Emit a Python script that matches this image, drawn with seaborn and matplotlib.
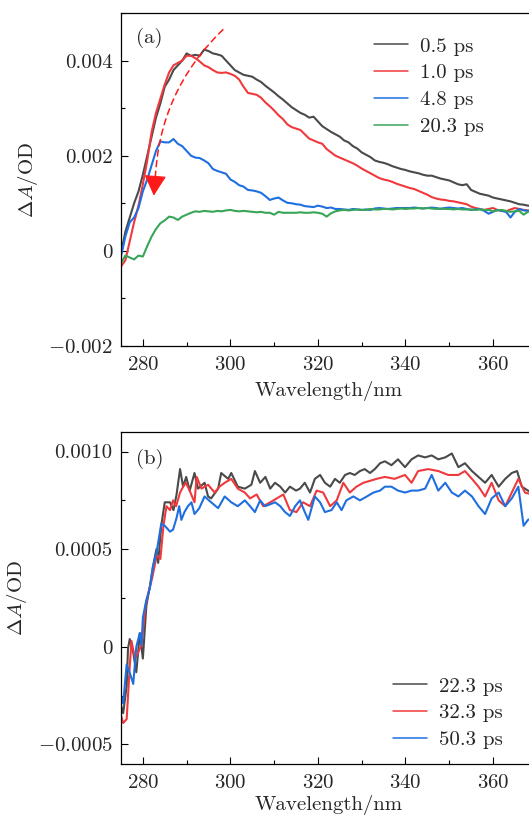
import numpy as np
import pandas as pd
import seaborn as sns
import matplotlib.pyplot as plt
from matplotlib.ticker import MultipleLocator, FixedLocator
from matplotlib.lines import Line2D

# ---- panel (a): early delays ----
wl_a = list(range(275, 370))

a_05ps = [-0.00005, 0.0004, 0.0007, 0.0010, 0.00125, 0.0016, 0.0020, 0.0024, 0.0028, 0.0031,
          0.00345, 0.0036, 0.0038, 0.0039, 0.0040, 0.00415, 0.0041, 0.00412, 0.0041, 0.00423,
          0.0042, 0.00415, 0.00413, 0.0041, 0.0040, 0.0039, 0.0038, 0.00375, 0.0037, 0.00368,
          0.00366, 0.0036, 0.00355, 0.00347, 0.0034, 0.00333, 0.00325, 0.00318, 0.0031, 0.00302,
          0.00296, 0.0029, 0.00286, 0.0028, 0.00282, 0.00272, 0.00262, 0.00256, 0.0025, 0.00245,
          0.0024, 0.00232, 0.00228, 0.0022, 0.00215, 0.00207, 0.00202, 0.00197, 0.0019, 0.00187,
          0.00185, 0.00182, 0.00178, 0.00175, 0.00172, 0.0017, 0.00167, 0.00165, 0.00163, 0.0016,
          0.00158, 0.00158, 0.00155, 0.00152, 0.0015, 0.00148, 0.00144, 0.0014, 0.00138, 0.0014,
          0.00128, 0.00124, 0.0012, 0.00118, 0.00116, 0.00112, 0.0011, 0.00108, 0.00106, 0.00104,
          0.00101, 0.00098, 0.00097, 0.00095, 0.00094]

a_10ps = [-0.00033, -0.0002, 0.0002, 0.0006, 0.00095, 0.0014, 0.0019, 0.0025, 0.0029, 0.0032,
          0.0035, 0.00375, 0.0039, 0.00395, 0.0040, 0.0041, 0.0041, 0.00405, 0.00398, 0.0039,
          0.00386, 0.0038, 0.00375, 0.00374, 0.00375, 0.00372, 0.00368, 0.0036, 0.00345, 0.00332,
          0.0033, 0.00328, 0.00322, 0.00312, 0.00304, 0.00295, 0.00285, 0.00277, 0.00266, 0.0026,
          0.00257, 0.00254, 0.00245, 0.00236, 0.00232, 0.00228, 0.00225, 0.00214, 0.00207, 0.0020,
          0.00196, 0.00192, 0.00188, 0.00184, 0.00179, 0.00173, 0.00168, 0.00163, 0.00158, 0.00153,
          0.0015, 0.00148, 0.00145, 0.00141, 0.00138, 0.00135, 0.00132, 0.0013, 0.00126, 0.00122,
          0.00118, 0.00113, 0.0011, 0.00108, 0.00107, 0.00105, 0.00104, 0.00102, 0.0010, 0.00098,
          0.00093, 0.0009, 0.00088, 0.00086, 0.00088, 0.0009, 0.00086, 0.00084, 0.00083, 0.00087,
          0.0009, 0.00088, 0.00086, 0.00085, 0.00085]

a_48ps = [-0.00012, 0.0003, 0.0006, 0.0007, 0.0009, 0.00125, 0.0015, 0.0018, 0.0021, 0.0023,
          0.00228, 0.00228, 0.00235, 0.00225, 0.0022, 0.0021, 0.0020, 0.00196, 0.00195, 0.0019,
          0.00184, 0.00172, 0.00168, 0.00165, 0.00162, 0.0015, 0.00145, 0.00138, 0.00135, 0.00128,
          0.00127, 0.00125, 0.00122, 0.00115, 0.00107, 0.0011, 0.00112, 0.00106, 0.00101, 0.0010,
          0.00098, 0.00097, 0.00094, 0.00093, 0.00092, 0.00095, 0.00093, 0.0009, 0.00091, 0.00088,
          0.00088, 0.00087, 0.00086, 0.00088, 0.00087, 0.00086, 0.00087, 0.00086, 0.00089, 0.0009,
          0.00089, 0.00088, 0.00089, 0.0009, 0.0009, 0.0009, 0.0009, 0.00091, 0.0009, 0.00089,
          0.0009, 0.00091, 0.0009, 0.00088, 0.0009, 0.00091, 0.0009, 0.00089, 0.0009, 0.00088,
          0.00086, 0.00087, 0.00088, 0.00084, 0.00078, 0.00082, 0.00086, 0.00084, 0.00082, 0.0007,
          0.00082, 0.00088, 0.00085, 0.00084, 0.00084]

a_203ps = [-0.00026, -0.0001, -0.00014, -0.00018, -0.0001, -0.00012, 0.0001, 0.0003, 0.00046, 0.00058,
           0.00064, 0.00072, 0.0007, 0.00065, 0.00072, 0.00076, 0.0008, 0.00083, 0.00082, 0.00084,
           0.00083, 0.00082, 0.00084, 0.00083, 0.00085, 0.00086, 0.00084, 0.00083, 0.00084, 0.00083,
           0.00082, 0.00081, 0.00082, 0.0008, 0.0008, 0.00076, 0.00082, 0.0008, 0.0008, 0.0008,
           0.0008, 0.00081, 0.0008, 0.0008, 0.00081, 0.0008, 0.00078, 0.00072, 0.00079, 0.00083,
           0.00085, 0.00086, 0.00085, 0.00086, 0.00087, 0.00086, 0.00086, 0.00088, 0.00087, 0.00087,
           0.00088, 0.00088, 0.00087, 0.00088, 0.00089, 0.00088, 0.00089, 0.00089, 0.0009, 0.00089,
           0.0009, 0.00089, 0.00088, 0.00089, 0.00088, 0.00088, 0.00087, 0.00088, 0.00087, 0.00087,
           0.00087, 0.00086, 0.00087, 0.00086, 0.00086, 0.00083, 0.00085, 0.00086, 0.00084, 0.00082,
           0.00083, 0.00084, 0.00076, 0.00082, 0.00083]

# ---- panel (b): late delays ----
wl_b1 = [275, 275.5, 276.3, 276.6, 277, 277.8, 278.5, 279.3, 280, 280.8, 281.6, 282.3, 283.1, 283.5,
         284.2, 285, 286.2, 287, 287.7, 288.5, 289.2, 289.9, 290.7, 291.8, 292.6, 294.1, 294.9, 295.6,
         297.2, 297.9, 299.5, 300.2, 301.7, 303.3, 304.8, 305.6, 306.8, 308, 309.1, 310.2, 311.4, 312.5,
         313.6, 315, 315.9, 317, 318.2, 319.3, 320.5, 321.6, 322.8, 323.9, 325, 326.2, 327.3, 328.4,
         329.6, 330.7, 331.9, 333, 334.2, 335.3, 336.8, 338.3, 339.9, 341.4, 342.9, 344.5, 346, 347.5,
         349.1, 350.6, 352.1, 353.6, 355.2, 356.7, 358.2, 359.7, 361.3, 362.8, 364.3, 365.5, 366.6,
         368, 369]
b_223ps = [-0.0003, -0.00034, -0.0002, -0.00001, 0.00004, -0.00003, -0.00013, 0.00007, -0.00006, 0.00021,
           0.00031, 0.00041, 0.0005, 0.00043, 0.00062, 0.00074, 0.00074, 0.0007, 0.00078, 0.00091,
           0.00082, 0.00087, 0.0008, 0.00089, 0.00081, 0.00084, 0.00077, 0.00076, 0.00081, 0.00089,
           0.00086, 0.00089, 0.00082, 0.00081, 0.00083, 0.0009, 0.00084, 0.00087, 0.00081, 0.00084,
           0.00082, 0.00079, 0.00082, 0.0008, 0.00081, 0.00084, 0.00079, 0.00086, 0.00088, 0.00084,
           0.00082, 0.00086, 0.00084, 0.00088, 0.00089, 0.00088, 0.0009, 0.00091, 0.00089, 0.00091,
           0.00094, 0.00095, 0.00093, 0.00096, 0.00092, 0.00096, 0.00098, 0.00097, 0.00098, 0.00096,
           0.00097, 0.00099, 0.00092, 0.00094, 0.0009, 0.00087, 0.00084, 0.00088, 0.00082, 0.00086,
           0.00089, 0.0009, 0.00082, 0.0008, 0.00079]

wl_b2 = [275, 275.5, 276.3, 277, 277.4, 278.2, 278.9, 279.7, 280.6, 281.3, 282.1, 283.2, 284, 284.7,
         285.4, 286.2, 286.9, 287.6, 288.5, 289.2, 289.8, 290.5, 291.8, 292.3, 293.4, 294.9, 296.4,
         297.5, 298.7, 300.2, 301.7, 303.3, 304.5, 306, 307.5, 309.1, 310.6, 312.1, 313.6, 315.1,
         316.6, 318.2, 319.7, 321.2, 322.8, 324.3, 325.8, 327.3, 328.8, 330.4, 331.9, 333.4, 335.3,
         337.5, 339.9, 341.4, 342.9, 345.2, 347.5, 349.8, 352.1, 353.6, 355.2, 356.7, 358.2, 359.7,
         361.3, 362.8, 364.3, 365.8, 367.3, 369]
b_323ps = [-0.00035, -0.00039, -0.00037, -0.0001, 0.00003, -0.00006, -0.00003, 0.00001, 0.00021, 0.00028,
           0.00035, 0.00047, 0.00045, 0.00062, 0.00072, 0.0007, 0.00075, 0.00072, 0.00079, 0.00082,
           0.00084, 0.00081, 0.00074, 0.00087, 0.00081, 0.00083, 0.00079, 0.00082, 0.00084, 0.00086,
           0.00081, 0.00079, 0.00076, 0.00078, 0.00072, 0.00074, 0.00076, 0.00078, 0.0007, 0.00069,
           0.00074, 0.00072, 0.0008, 0.00079, 0.00072, 0.00075, 0.00084, 0.00079, 0.00082, 0.00084,
           0.00085, 0.00086, 0.00087, 0.00086, 0.00088, 0.00084, 0.0009, 0.00091, 0.0009, 0.00088,
           0.00088, 0.0009, 0.00086, 0.00082, 0.00077, 0.00084, 0.00075, 0.00072, 0.00079, 0.00086,
           0.00079, 0.00078]

wl_b3 = [275, 275.5, 276.3, 277.1, 277.8, 278.5, 279.3, 279.7, 280, 280.8, 281.6, 282.3, 283.1, 284.2,
         285, 286.2, 286.9, 287.7, 288.3, 288.8, 289.5, 290.3, 291.1, 291.8, 292.9, 294.1, 295.6,
         297.2, 298.7, 300.2, 301.7, 303.3, 304.5, 305.6, 306.8, 307.9, 309.1, 310.2, 311.4, 312.5,
         313.6, 314.8, 315.9, 317, 317.8, 319.3, 320.5, 321.6, 323.1, 324.3, 325.4, 326.5, 328.1,
         329.6, 331.2, 332.7, 334.2, 335.3, 336.8, 338.3, 339.9, 341.4, 342.9, 344.5, 346, 347.5,
         349.1, 350.6, 352.1, 353.6, 355.2, 356.7, 358.2, 359.7, 361.3, 362.8, 364.3, 365.8, 367,
         368, 369]
b_503ps = [-0.00025, -0.00029, -0.00009, -0.00014, -0.00019, 0.0, 0.00007, 0.00001, 0.00015, 0.00024,
           0.0003, 0.00041, 0.00048, 0.00063, 0.00062, 0.00059, 0.0006, 0.00066, 0.00072, 0.00065,
           0.00069, 0.00072, 0.00074, 0.00068, 0.00071, 0.00077, 0.00074, 0.00071, 0.00077, 0.00074,
           0.00072, 0.00075, 0.00072, 0.00069, 0.00075, 0.00072, 0.00073, 0.00074, 0.00072, 0.00069,
           0.00067, 0.00072, 0.00075, 0.00069, 0.00065, 0.00077, 0.00074, 0.00069, 0.0007, 0.00074,
           0.0007, 0.00075, 0.00077, 0.00075, 0.00077, 0.00079, 0.0008, 0.00082, 0.00082, 0.0008,
           0.00079, 0.0008, 0.0008, 0.00081, 0.00088, 0.0008, 0.00084, 0.00079, 0.00077, 0.0008,
           0.00077, 0.00072, 0.00068, 0.00076, 0.00079, 0.00072, 0.00076, 0.00082, 0.00062, 0.00065,
           0.00066]

labels_a = ["0.5 ps", "1.0 ps", "4.8 ps", "20.3 ps"]
labels_b = ["22.3 ps", "32.3 ps", "50.3 ps"]
colors_a = ["#4a4a4a", "#f0393c", "#1f6fe0", "#38a559"]
colors_b = ["#4a4a4a", "#f0393c", "#1f6fe0"]

sns.set_style("ticks")
plt.rcParams["font.family"] = ["cmr10", "DejaVu Serif"]
plt.rcParams["mathtext.fontset"] = "cm"
plt.rcParams["axes.formatter.use_mathtext"] = True
plt.rcParams["axes.unicode_minus"] = False
FS = 15

fig = plt.figure(figsize=(5.29, 8.16), dpi=100)
ax_a = fig.add_axes([0.2287, 0.5760, 0.7859, 0.4081])
ax_b = fig.add_axes([0.2287, 0.0637, 0.7859, 0.4069])

df_a = pd.concat([pd.DataFrame({"wl": wl_a, "dA": v, "delay": lab})
                  for v, lab in zip([a_05ps, a_10ps, a_48ps, a_203ps], labels_a)])
df_b = pd.concat([pd.DataFrame({"wl": w, "dA": v, "delay": lab})
                  for w, v, lab in zip([wl_b1, wl_b2, wl_b3], [b_223ps, b_323ps, b_503ps], labels_b)])

sns.lineplot(data=df_a, x="wl", y="dA", hue="delay", hue_order=labels_a,
             palette=dict(zip(labels_a, colors_a)), estimator=None, sort=False,
             linewidth=1.5, legend=False, ax=ax_a)
sns.lineplot(data=df_b, x="wl", y="dA", hue="delay", hue_order=labels_b,
             palette=dict(zip(labels_b, colors_b)), estimator=None, sort=False,
             linewidth=1.5, legend=False, ax=ax_b)


def style_axis(ax, ylim, minor, yticks, yticklabels, xpad):
    ax.set_xlim(275, 370)
    ax.set_ylim(*ylim)
    ax.xaxis.set_major_locator(FixedLocator([280, 300, 320, 340, 360]))
    ax.xaxis.set_minor_locator(MultipleLocator(10))
    ax.set_yticks(yticks)
    ax.set_yticklabels(yticklabels)
    ax.yaxis.set_minor_locator(MultipleLocator(minor))
    ax.tick_params(which="both", direction="in", top=False, right=False,
                   labelsize=FS, width=0.8, color="black")
    ax.tick_params(axis="y", pad=6)
    ax.tick_params(axis="x", pad=7)
    ax.tick_params(which="major", length=5)
    ax.tick_params(which="minor", length=3)
    for s in ax.spines.values():
        s.set_linewidth(0.9)
        s.set_color("black")
    ax.set_xlabel("Wavelength/nm", fontsize=FS, labelpad=xpad)
    ax.set_ylabel(r"$\Delta A$/OD", fontsize=FS, labelpad=6)


style_axis(ax_a, (-0.002, 0.005), 0.001,
           [-0.002, 0, 0.002, 0.004], [r"$-0.002$", "0", "0.002", "0.004"], 5)
style_axis(ax_b, (-0.0006, 0.0011), 0.00025,
           [-0.0005, 0, 0.0005, 0.001], [r"$-0.0005$", "0", "0.0005", "0.0010"], 2)

ax_a.text(0.035, 0.925, "(a)", transform=ax_a.transAxes, fontsize=FS, va="center")
ax_b.text(0.035, 0.92, "(b)", transform=ax_b.transAxes, fontsize=FS, va="center")

# dashed curve showing the peak shift, solid head at its end
ax_a.annotate("", xy=(282.8, 0.00148), xytext=(298.3, 0.00465),
              arrowprops=dict(arrowstyle="-", color="#ff1a1a", lw=1.1,
                              linestyle=(0, (4, 3)), shrinkA=0, shrinkB=0,
                              connectionstyle="arc3,rad=0.2"))
ax_a.annotate("", xy=(282.5, 0.00116), xytext=(282.8, 0.00152),
              arrowprops=dict(arrowstyle="-|>,head_length=0.65,head_width=0.35",
                              color="#ff1a1a", lw=0.8, shrinkA=0, shrinkB=0,
                              mutation_scale=20))

handles_a = [Line2D([], [], color=c, lw=1.1) for c in colors_a]
handles_b = [Line2D([], [], color=c, lw=1.1) for c in colors_b]
fig.legend(handles_a, labels_a, loc="upper left", bbox_to_anchor=(374 / 529, 1 - 37 / 816),
           frameon=False, fontsize=FS, handlelength=1.65, handletextpad=0.55,
           labelspacing=0.4, borderpad=0, borderaxespad=0)
fig.legend(handles_b, labels_b, loc="upper left", bbox_to_anchor=(393 / 529, 1 - 677 / 816),
           frameon=False, fontsize=FS, handlelength=1.65, handletextpad=0.55,
           labelspacing=0.4, borderpad=0, borderaxespad=0)

fig.savefig("out.png", dpi=100)
